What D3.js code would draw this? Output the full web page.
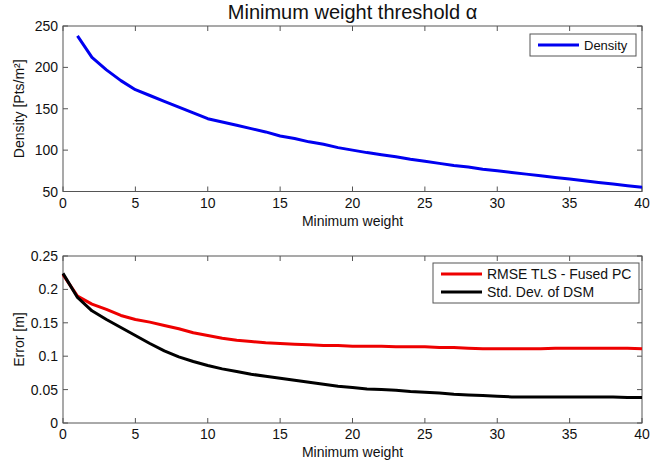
<!DOCTYPE html>
<html>
<head>
  <script src="https://d3js.org/d3.v7.min.js"></script>
  <style>
    body { margin: 0; background: white; }
    svg text { font-family: "Liberation Sans", Arial, sans-serif; fill: #111; }
  </style>
</head>
<body>
  <svg id="chart" width="670" height="461"></svg>
  <script>
    // Top panel: density vs minimum weight
    const densityX = d3.range(1, 41);
    const densityY = [238, 212, 197, 184, 173, 166, 159, 152, 145, 138,
                      134, 130, 126, 122, 117, 114, 110, 107, 103, 100,
                      97, 94.5, 92, 89, 86.5, 84, 81.5, 79.5, 77, 75,
                      73, 71, 69, 67, 65, 63, 61, 59, 57, 55];

    // Bottom panel: error vs minimum weight
    const errorX = d3.range(0, 41);
    const rmseY = [0.222, 0.190, 0.178, 0.170, 0.161, 0.155, 0.151, 0.146, 0.141, 0.135,
                   0.131, 0.127, 0.124, 0.122, 0.120, 0.119, 0.118, 0.117, 0.116, 0.116,
                   0.115, 0.115, 0.115, 0.114, 0.114, 0.114, 0.113, 0.113, 0.112, 0.111,
                   0.111, 0.111, 0.111, 0.111, 0.112, 0.112, 0.112, 0.112, 0.112, 0.112, 0.111];
    const stdY = [0.224, 0.188, 0.168, 0.155, 0.143, 0.131, 0.119, 0.108, 0.099, 0.092,
                  0.086, 0.081, 0.077, 0.073, 0.070, 0.067, 0.064, 0.061, 0.058, 0.055,
                  0.053, 0.051, 0.050, 0.049, 0.047, 0.046, 0.045, 0.043, 0.042, 0.041,
                  0.040, 0.039, 0.039, 0.039, 0.039, 0.039, 0.039, 0.039, 0.039, 0.038, 0.038];

    const xTicks = [0, 5, 10, 15, 20, 25, 30, 35, 40];
    const densityTicks = [50, 100, 150, 200, 250];
    const errorTicks = [0, 0.05, 0.1, 0.15, 0.2, 0.25];

    const svg = d3.select("#chart");
    const left = 63, right = 642;

    // draws one MATLAB-style boxed axes
    function drawPanel(top, bottom, yDomain, yTicks, yLabel, series, legend) {
      const x = d3.scaleLinear().domain([0, 40]).range([left, right]);
      const y = d3.scaleLinear().domain(yDomain).range([bottom, top]);
      const g = svg.append("g");

      g.append("rect")
        .attr("x", left).attr("y", top)
        .attr("width", right - left).attr("height", bottom - top)
        .attr("fill", "white").attr("stroke", "#555").attr("stroke-width", 1);

      // inward ticks on all four sides
      xTicks.forEach(t => {
        g.append("line").attr("x1", x(t)).attr("x2", x(t)).attr("y1", bottom).attr("y2", bottom - 5).attr("stroke", "#555");
        g.append("line").attr("x1", x(t)).attr("x2", x(t)).attr("y1", top).attr("y2", top + 5).attr("stroke", "#555");
        g.append("text").attr("x", x(t)).attr("y", bottom + 16)
          .attr("text-anchor", "middle").style("font-size", "14px").text(t);
      });
      yTicks.forEach(t => {
        g.append("line").attr("x1", left).attr("x2", left + 5).attr("y1", y(t)).attr("y2", y(t)).attr("stroke", "#555");
        g.append("line").attr("x1", right).attr("x2", right - 5).attr("y1", y(t)).attr("y2", y(t)).attr("stroke", "#555");
        g.append("text").attr("x", left - 5).attr("y", y(t) + 5)
          .attr("text-anchor", "end").style("font-size", "14px").text(t);
      });

      g.append("text").attr("x", (left + right) / 2).attr("y", bottom + 34)
        .attr("text-anchor", "middle").style("font-size", "14px").text("Minimum weight");
      g.append("text")
        .attr("transform", `translate(24,${(top + bottom) / 2}) rotate(-90)`)
        .attr("text-anchor", "middle").style("font-size", "14px").text(yLabel);

      const line = d3.line().x(d => x(d[0])).y(d => y(d[1]));
      series.forEach(s => {
        g.append("path")
          .datum(s.xs.map((v, i) => [v, s.ys[i]]))
          .attr("d", line)
          .attr("fill", "none").attr("stroke", s.color)
          .attr("stroke-width", 3).attr("stroke-linejoin", "round");
      });

      // legend box
      const lg = g.append("g");
      lg.append("rect")
        .attr("x", legend.x).attr("y", legend.y)
        .attr("width", legend.w).attr("height", 4 + series.length * 18)
        .attr("fill", "white").attr("stroke", "#555");
      series.forEach((s, i) => {
        const ly = legend.y + 11 + i * 18;
        lg.append("line").attr("x1", legend.x + 8).attr("x2", legend.x + 49)
          .attr("y1", ly).attr("y2", ly).attr("stroke", s.color).attr("stroke-width", 3);
        lg.append("text").attr("x", legend.x + 54).attr("y", ly + 5)
          .style("font-size", legend.fs).text(s.name);
      });
    }

    svg.append("text").attr("x", (left + right) / 2).attr("y", 19)
      .attr("text-anchor", "middle").style("font-size", "20px")
      .text("Minimum weight threshold α");

    drawPanel(26, 191.5, [50, 250], densityTicks, "Density [Pts/m²]",
      [{ name: "Density", xs: densityX, ys: densityY, color: "#0000f0" }],
      { x: 530, y: 34, w: 106, fs: "13px" });

    drawPanel(256, 423, [0, 0.25], errorTicks, "Error [m]",
      [{ name: "RMSE TLS - Fused PC", xs: errorX, ys: rmseY, color: "#ee0000" },
       { name: "Std. Dev. of DSM", xs: errorX, ys: stdY, color: "#000000" }],
      { x: 433, y: 263, w: 206, fs: "14px" });
  </script>
</body>
</html>
